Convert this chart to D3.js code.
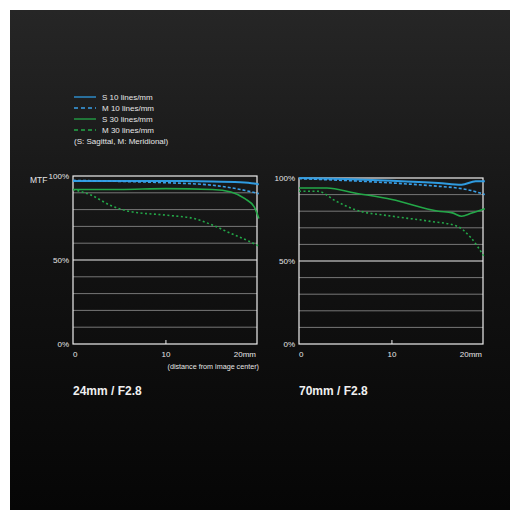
<!DOCTYPE html>
<html><head><meta charset="UTF-8">
<script src="https://d3js.org/d3.v7.min.js"></script>
<style>body{margin:0;background:#fff}text{font-family:"Liberation Sans",Arial,sans-serif}</style>
</head><body><div id="chart"></div>
<script>
const seriesNames = ["S  10 lines/mm", "M 10 lines/mm", "S  30 lines/mm", "M 30 lines/mm"];
const lensTitles = ["24mm / F2.8", "70mm / F2.8"];
const yTicks = [0, 50, 100];
const xTicks = [0, 10, 20];
// [mm, MTF%]
const wideS10 = [[0,97],[5,97],[10,97],[15,96.8],[18,96.3],[19.5,95.5],[20,95]];
const wideM10 = [[0,97.4],[5,96.8],[10,96],[15,94.5],[18,92],[20,89.5]];
const wideS30 = [[0,92],[5,92],[10,92.5],[15,92],[17,90.5],[18.5,86.5],[19.5,81.6],[20,74.7]];
const wideM30 = [[0,92],[2,88.5],[4,82.6],[6,79],[10,76.7],[13,74.7],[15,70.8],[17,65.8],[19,61],[20,58.3]];
const teleS10 = [[0,100],[5,99.4],[10,98.4],[15,97],[17.5,96],[19,98],[20,98]];
const teleM10 = [[0,99.6],[5,98.5],[10,97],[15,95],[17,94],[18.5,92.5],[20,90]];
const teleS30 = [[0,94],[3,94],[6,91],[10,87],[15,80],[16.5,79],[17.5,77],[18.5,78.7],[20,81.5]];
const teleM30 = [[0,92],[2,92],[4,86],[6,81],[10,77],[14,74],[17,71],[18.5,64],[20,52]];

const styles = [
  {c:"#2f9be0", d:null, w:2},
  {c:"#3aa0e8", d:"3,2", w:1.6},
  {c:"#23a848", d:null, w:1.6},
  {c:"#23a848", d:"2,2.5", w:1.6}
];

const svg = d3.select("#chart").append("svg").attr("width",520).attr("height",520);
const defs = svg.append("defs");
const g = defs.append("linearGradient").attr("id","bg").attr("x1","0").attr("y1","0").attr("x2","0").attr("y2","1");
g.append("stop").attr("offset","0%").attr("stop-color","#262626");
g.append("stop").attr("offset","50%").attr("stop-color","#121212");
g.append("stop").attr("offset","100%").attr("stop-color","#060606");
svg.append("rect").attr("x",10).attr("y",10).attr("width",500).attr("height",500).attr("fill","url(#bg)");

// legend
styles.forEach((s,i)=>{
  const y = 97 + i*11;
  svg.append("line").attr("x1",74).attr("x2",96).attr("y1",y).attr("y2",y)
    .attr("stroke",s.c).attr("stroke-width",1.3).attr("stroke-dasharray",s.d ? "4,3" : null);
  svg.append("text").attr("x",102).attr("y",y+3).attr("fill","#e6e6e6").attr("font-size",8).text(seriesNames[i]);
});
svg.append("text").attr("x",74).attr("y",144).attr("fill","#e6e6e6").attr("font-size",8).text("(S: Sagittal, M: Meridional)");

function panel(x0, x1, y0, data, title, first){
  const x = d3.scaleLinear().domain([0,19.8]).range([x0,x1]);
  const y = d3.scaleLinear().domain([0,100]).range([344,y0]);
  const p = svg.append("g");
  d3.range(10,100,10).forEach(v=>{
    p.append("line").attr("x1",x0).attr("x2",x1).attr("y1",y(v)).attr("y2",y(v))
      .attr("stroke", v===50 ? "#eee" : "#777").attr("stroke-width", v===50?1.2:1);
  });
  p.append("rect").attr("x",x0).attr("y",y(100)).attr("width",x1-x0).attr("height",y(0)-y(100))
    .attr("fill","none").attr("stroke","#eee").attr("stroke-width",1.2);
  p.append("line").attr("x1",x(10)).attr("x2",x(10)).attr("y1",y(0)).attr("y2",y(0)-4).attr("stroke","#eee");
  yTicks.forEach(v=>p.append("text").attr("x",x0-4).attr("y",y(v)+3).attr("text-anchor","end")
    .attr("fill","#e6e6e6").attr("font-size",8).text(v+"%"));
  xTicks.forEach(v=>p.append("text").attr("x", v===20 ? x1-1 : x(v)).attr("y",357)
    .attr("text-anchor", v===0 ? "start" : (v===20 ? "end":"middle"))
    .attr("fill","#e6e6e6").attr("font-size",8).text(v===20 ? "20mm" : v));
  const line = d3.line().x(d=>x(d[0])).y(d=>y(d[1])).curve(d3.curveMonotoneX);
  data.forEach((ser,i)=>{
    p.append("path").attr("d",line(ser)).attr("fill","none").attr("stroke",styles[i].c)
      .attr("stroke-width",styles[i].w).attr("stroke-dasharray",styles[i].d);
  });
  p.append("text").attr("x",x0).attr("y",395).attr("fill","#f0f0f0").attr("font-size",12)
    .attr("font-weight","bold").attr("font-family","'Liberation Sans Narrow','DejaVu Sans Condensed',sans-serif").text(title);
  if(first){
    p.append("text").attr("x",30).attr("y",y(100)+7).attr("fill","#e6e6e6").attr("font-size",8.5).text("MTF");
    p.append("text").attr("x",x1+2).attr("y",369).attr("text-anchor","end").attr("fill","#e6e6e6")
      .attr("font-size",7.2).text("(distance from image center)");
  }
}
panel(73,257,176,[wideS10,wideM10,wideS30,wideM30],lensTitles[0],true);
panel(299,483,178,[teleS10,teleM10,teleS30,teleM30],lensTitles[1],false);
</script></body></html>
